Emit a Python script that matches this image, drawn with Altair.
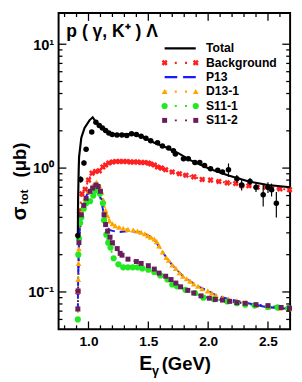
import altair as alt
import pandas as pd

# ---------------- data ----------------
series_names = ["Total", "Background", "P13", "D13-1", "S11-1", "S11-2"]
series_colors = ["#000000", "#ff2020", "#1a1aff", "#ffa500", "#22e822", "#6a1d5c"]

total_E = [0.911, 0.913, 0.918, 0.921, 0.94, 0.967, 1.008, 1.035, 1.057, 1.085, 1.116, 1.17, 1.25, 1.36,
           1.44, 1.55, 1.66, 1.75, 1.85, 2.01, 2.17, 2.34, 2.50, 2.685]
total_sig = [0.28, 0.55, 0.95, 1.22, 1.76, 2.11, 2.43, 2.57, 2.40, 2.25, 2.13, 1.92, 1.86, 1.89,
             1.81, 1.60, 1.45, 1.32, 1.16, 0.99, 0.87, 0.78, 0.73, 0.70]

data_E = [0.911, 0.935, 0.962, 0.98, 1.027, 1.062, 1.09, 1.116, 1.143, 1.17, 1.198, 1.238, 1.279, 1.32,
          1.36, 1.40, 1.44, 1.48, 1.52, 1.577, 1.618, 1.67, 1.71, 1.726, 1.794, 1.834, 1.889, 1.93,
          1.97, 2.02, 2.08, 2.12, 2.17, 2.24, 2.28, 2.35, 2.40, 2.46, 2.50, 2.53, 2.57]
data_sig = [0.285, 0.81, 1.10, 1.42, 1.96, 2.35, 2.21, 2.11, 2.01, 1.92, 1.87, 1.85, 1.85, 1.83,
            1.89, 1.87, 1.81, 1.74, 1.66, 1.60, 1.51, 1.45, 1.38, 1.30, 1.19, 1.19, 1.11, 1.11,
            1.05, 0.99, 0.96, 0.93, 0.97, 0.82, 0.73, 0.78, 0.70, 0.61, 0.70, 0.67, 0.52]
data_err = [0.02, 0.05, 0.05, 0.05, 0.06, 0.07, 0.06, 0.06, 0.05, 0.05, 0.05, 0.05, 0.05, 0.05,
            0.05, 0.05, 0.05, 0.05, 0.05, 0.05, 0.05, 0.05, 0.05, 0.05, 0.05, 0.05, 0.04, 0.04,
            0.04, 0.04, 0.04, 0.04, 0.12, 0.06, 0.07, 0.05, 0.06, 0.12, 0.07, 0.08, 0.12]

bg_E = [0.911, 0.925, 0.945, 0.972, 1.00, 1.03, 1.06, 1.09, 1.12, 1.143, 1.17, 1.20, 1.23, 1.26, 1.29,
        1.32, 1.35, 1.38, 1.41, 1.44, 1.47, 1.50, 1.52, 1.55, 1.577, 1.61, 1.645, 1.70, 1.76, 1.815,
        1.88, 1.95, 2.02, 2.09, 2.16, 2.23, 2.28, 2.34, 2.41, 2.48, 2.53, 2.60, 2.68]
bg_sig = [0.10, 0.45, 0.62, 0.675, 0.80, 0.91, 0.94, 0.95, 1.02, 1.06, 1.10, 1.12, 1.13, 1.13, 1.13,
          1.13, 1.12, 1.12, 1.12, 1.11, 1.11, 1.10, 1.08, 1.06, 1.02, 1.00, 0.97, 0.93, 0.90, 0.875,
          0.85, 0.81, 0.80, 0.78, 0.76, 0.75, 0.72, 0.72, 0.70, 0.70, 0.68, 0.68, 0.67]

p13_E = [0.911, 0.912, 0.915, 0.92, 0.93, 0.94, 0.954, 0.98, 1.0, 1.03, 1.055, 1.08, 1.10, 1.116, 1.135,
         1.157, 1.18, 1.21, 1.26, 1.30, 1.35, 1.40, 1.45, 1.50, 1.55, 1.60, 1.65, 1.70, 1.79, 1.85,
         1.915, 2.0, 2.065, 2.17, 2.31, 2.50, 2.685]
p13_sig = [0.07, 0.10, 0.15, 0.25, 0.36, 0.436, 0.49, 0.59, 0.65, 0.71, 0.74, 0.66, 0.57, 0.49, 0.39,
           0.33, 0.315, 0.31, 0.305, 0.308, 0.31, 0.305, 0.30, 0.285, 0.265, 0.225, 0.19, 0.165, 0.134,
           0.122, 0.111, 0.102, 0.094, 0.0875, 0.082, 0.075, 0.073]

d13_E = [0.911, 0.912, 0.914, 0.917, 0.92, 0.94, 0.972, 1.0, 1.035, 1.067, 1.09, 1.11, 1.125, 1.143,
         1.16, 1.176, 1.2, 1.224, 1.255, 1.29, 1.33, 1.374, 1.41, 1.44, 1.47, 1.496, 1.52, 1.55, 1.57,
         1.59, 1.62, 1.65, 1.67, 1.70, 1.73, 1.76, 1.79, 1.82, 1.85, 1.88, 1.915, 1.95, 1.997, 2.03,
         2.065, 2.12, 2.17, 2.24, 2.31, 2.40, 2.50, 2.60, 2.68]
d13_sig = [0.073, 0.102, 0.126, 0.17, 0.223, 0.44, 0.57, 0.65, 0.72, 0.77, 0.72, 0.64, 0.55, 0.457,
           0.41, 0.374, 0.355, 0.342, 0.333, 0.326, 0.32, 0.316, 0.31, 0.303, 0.295, 0.285, 0.277,
           0.268, 0.255, 0.235, 0.21, 0.19, 0.18, 0.165, 0.155, 0.143, 0.134, 0.128, 0.122, 0.116,
           0.111, 0.106, 0.102, 0.098, 0.094, 0.09, 0.0875, 0.085, 0.082, 0.078, 0.075, 0.074, 0.073]

s111_E = [0.911, 0.915, 0.92, 0.93, 0.94, 0.96, 0.98, 1.013, 1.04, 1.06, 1.076, 1.095, 1.12, 1.13,
          1.149, 1.165, 1.184, 1.21, 1.25, 1.29, 1.33, 1.37, 1.41, 1.45, 1.50, 1.55, 1.60, 1.66, 1.70,
          1.74, 1.81, 1.89, 1.96, 2.05, 2.16, 2.24, 2.31, 2.39, 2.50, 2.58, 2.67]
s111_sig = [0.060, 0.20, 0.27, 0.36, 0.40, 0.47, 0.52, 0.54, 0.60, 0.66, 0.71, 0.62, 0.52, 0.38,
            0.29, 0.25, 0.228, 0.187, 0.167, 0.158, 0.158, 0.158, 0.158, 0.155, 0.151, 0.145, 0.136,
            0.126, 0.115, 0.111, 0.104, 0.098, 0.090, 0.0875, 0.0838, 0.081, 0.079, 0.0776, 0.076,
            0.075, 0.074]

s112_E = [0.911, 0.913, 0.92, 0.94, 0.96, 0.98, 1.013, 1.035, 1.062, 1.08, 1.10, 1.13, 1.143, 1.16,
          1.18, 1.20, 1.24, 1.265, 1.28, 1.33, 1.40, 1.44, 1.50, 1.55, 1.59, 1.645, 1.69, 1.73, 1.77,
          1.83, 1.88, 1.94, 2.01, 2.06, 2.12, 2.18, 2.24, 2.31, 2.40, 2.50, 2.61, 2.68]
s112_sig = [0.073, 0.102, 0.25, 0.42, 0.50, 0.57, 0.65, 0.69, 0.73, 0.71, 0.65, 0.42, 0.35, 0.31,
            0.277, 0.25, 0.224, 0.205, 0.198, 0.184, 0.176, 0.17, 0.163, 0.153, 0.142, 0.134, 0.126,
            0.118, 0.110, 0.103, 0.098, 0.093, 0.089, 0.087, 0.086, 0.084, 0.082, 0.081, 0.079,
            0.0776, 0.075, 0.074]

x_major = [1.0, 1.5, 2.0, 2.5]
x_minor = [0.8, 0.9, 1.1, 1.2, 1.3, 1.4, 1.6, 1.7, 1.8, 1.9, 2.1, 2.2, 2.3, 2.4, 2.6]
y_major = [0.1, 1.0, 10.0]
y_minor = [0.06, 0.07, 0.08, 0.09, 0.2, 0.3, 0.4, 0.5, 0.6, 0.7, 0.8, 0.9,
           2, 3, 4, 5, 6, 7, 8, 9]

# ---------------- layout ----------------
W, H = 238, 325
FONT = "Liberation Sans"
xs = alt.Scale(domain=[0.75, 2.685], zero=False, nice=False)
ys = alt.Scale(type="log", domain=[0.05, 17.84], nice=False)
X_AX = alt.Axis(values=x_major, format=".1f", ticks=False, domain=False, grid=False,
                labelFont=FONT, labelFontSize=14, labelFontWeight="bold", labelColor="black",
                labelPadding=6, title=None)
Y_AX = alt.Axis(values=y_major, ticks=False, domain=False, grid=False,
                labelExpr="datum.value >= 5 ? '10¹' : (datum.value >= 0.5 ? '10⁰' : '10⁻¹')",
                labelFont=FONT, labelFontSize=15, labelFontWeight="bold", labelColor="black",
                labelPadding=5, title=None)


def X(f="E"):
    return alt.X(f"{f}:Q", scale=xs, axis=X_AX, title=None)


def Y(f="sig"):
    return alt.Y(f"{f}:Q", scale=ys, axis=Y_AX, title=None)


def df(E, s):
    return pd.DataFrame({"E": E, "sig": s})


col = dict(zip(series_names, series_colors))
layers = []

# dotted connecting lines for marker series
for name, E, s in [("Background", bg_E, bg_sig), ("D13-1", d13_E, d13_sig),
                   ("S11-1", s111_E, s111_sig), ("S11-2", s112_E, s112_sig)]:
    layers.append(alt.Chart(df(E, s)).mark_line(color=col[name], strokeWidth=2,
                                                 strokeDash=[2, 5]).encode(x=X(), y=Y()))

# markers
marker_style = {
    "Background": dict(shape="cross", angle=45, size=40),
    "D13-1": dict(shape="triangle-up", size=36),
    "S11-1": dict(shape="circle", size=40),
    "S11-2": dict(shape="square", size=26),
}
layers.append(alt.Chart(df(bg_E, bg_sig)).mark_point(filled=True, opacity=1, color=col["Background"],
                                                      **marker_style["Background"]).encode(x=X(), y=Y()))
layers.append(alt.Chart(df(p13_E, p13_sig)).mark_line(color=col["P13"], strokeWidth=2,
                                                       strokeDash=[8, 5]).encode(x=X(), y=Y()))
for name, E, s in [("D13-1", d13_E, d13_sig), ("S11-1", s111_E, s111_sig), ("S11-2", s112_E, s112_sig)]:
    layers.append(alt.Chart(df(E, s)).mark_point(filled=True, opacity=1, color=col[name],
                                                  **marker_style[name]).encode(x=X(), y=Y()))

# total line
layers.append(alt.Chart(df(total_E, total_sig)).mark_line(color="black", strokeWidth=2.2).encode(x=X(), y=Y()))

# data with error bars
ddf = pd.DataFrame({"E": data_E, "sig": data_sig, "err": data_err})
layers.append(alt.Chart(ddf).transform_calculate(lo="datum.sig - datum.err", hi="datum.sig + datum.err")
              .mark_rule(color="black", strokeWidth=1.2).encode(x=X(), y=Y("lo"), y2="hi:Q"))
layers.append(alt.Chart(ddf).mark_circle(color="black", size=32, opacity=1).encode(x=X(), y=Y()))

# inward ticks on all four sides
for vals, ln in [(x_major, 8), (x_minor, 4)]:
    t = pd.DataFrame({"v": vals})
    layers.append(alt.Chart(t).mark_rule(color="black", strokeWidth=1.3).encode(
        x=X("v"), y=alt.value(H), y2=alt.value(H - ln)))
    layers.append(alt.Chart(t).mark_rule(color="black", strokeWidth=1.3).encode(
        x=X("v"), y=alt.value(0), y2=alt.value(ln)))
for vals, ln in [(y_major, 8), (y_minor, 4)]:
    t = pd.DataFrame({"v": vals})
    layers.append(alt.Chart(t).mark_rule(color="black", strokeWidth=1.3).encode(
        y=Y("v"), x=alt.value(0), x2=alt.value(ln)))
    layers.append(alt.Chart(t).mark_rule(color="black", strokeWidth=1.3).encode(
        y=Y("v"), x=alt.value(W), x2=alt.value(W - ln)))

# ---------------- legend (inside plot, upper right) ----------------
leg = pd.DataFrame({"name": series_names, "row": list(range(len(series_names)))})
LX0, LX1, LTX = 109, 141, 151.5
ly = "36.3 + 14.8 * datum.row"
dash_range = [[1, 0], [2, 8.5], [13, 6], [2, 8.5], [2, 8.5], [2, 8.5]]
width_range = [2.4, 2, 2.4, 2, 2, 2]
layers.append(alt.Chart(leg).transform_calculate(ly=ly).mark_rule().encode(
    x=alt.value(LX0), x2=alt.value(LX1), y=alt.Y("ly:Q", scale=None),
    color=alt.Color("name:N", scale=alt.Scale(domain=series_names, range=series_colors), legend=None),
    strokeDash=alt.StrokeDash("name:N", scale=alt.Scale(domain=series_names, range=dash_range), legend=None),
    strokeWidth=alt.StrokeWidth("name:N", scale=alt.Scale(domain=series_names, range=width_range), legend=None),
))
for name in ["Background", "D13-1", "S11-1", "S11-2"]:
    ends = pd.DataFrame({"row": [series_names.index(name)] * 2, "lx": [LX0, LX1]})
    layers.append(alt.Chart(ends).transform_calculate(ly=ly).mark_point(
        filled=True, opacity=1, color=col[name], **marker_style[name]).encode(
        x=alt.X("lx:Q", scale=None), y=alt.Y("ly:Q", scale=None)))
layers.append(alt.Chart(leg).transform_calculate(ly=ly).mark_text(
    align="left", baseline="middle", font=FONT, fontSize=12.5, fontWeight="bold", color="black").encode(
    x=alt.value(LTX), y=alt.Y("ly:Q", scale=None), text="name:N"))

# ---------------- texts ----------------
def txt(s, x, y, size, weight="bold", align="left", baseline="alphabetic", angle=0, font=FONT):
    kw = dict(text=s, align=align, baseline=baseline, font=font, fontSize=size,
              fontWeight=weight, color="black")
    if angle:
        kw["angle"] = angle
    return alt.Chart(pd.DataFrame({"a": [0]})).mark_text(**kw).encode(x=alt.value(x), y=alt.value(y))

layers.append(txt("p ( γ, K⁺ ) Λ", 8, 25, 18))
layers.append(txt("E", 83, 367, 20))
layers.append(txt("γ", 96, 372, 13))
layers.append(txt("(GeV)", 106, 367, 19))
layers.append(txt("σ", -40, 206, 21, align="center", baseline="middle", angle=270))
layers.append(txt("tot", -35, 189, 12, align="center", baseline="middle", angle=270))
layers.append(txt("(μb)", -40, 151, 19, align="center", baseline="middle", angle=270))

chart = alt.layer(*layers).properties(
    width=W, height=H,
    autosize=alt.AutoSizeParams(type="none"),
    padding={"left": 52, "top": 0, "right": 4, "bottom": 49},
).configure_view(stroke="black", strokeWidth=2)

chart.save("out.html", embed_options={"renderer": "svg", "actions": False})
